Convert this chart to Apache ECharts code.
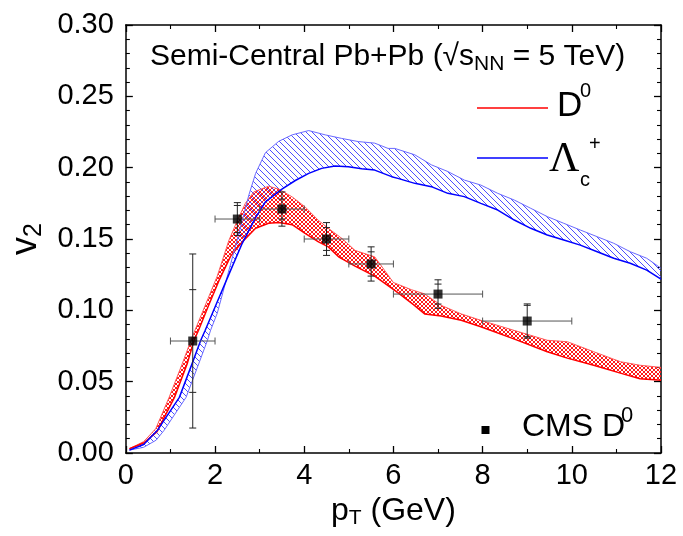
<!DOCTYPE html>
<html><head><meta charset="utf-8">
<script src="https://cdn.jsdelivr.net/npm/echarts@6/dist/echarts.min.js"></script>
<style>html,body{margin:0;padding:0;background:#fff}#c{width:683px;height:536px}</style>
</head><body><div id="c"></div>
<script>
// ---- D0 band (red) ----
const d0UpX = [0.08, 0.4, 0.67, 0.97, 1.27, 1.46, 1.55, 1.8, 2.05, 2.31, 2.5, 2.68, 2.87, 3.2, 3.43, 3.73, 4.02, 4.32, 4.54, 4.84, 5.14, 5.58, 6.0, 6.4, 6.7, 7.07, 7.52, 7.96, 8.7, 9.45, 9.9, 10.49, 11.09, 11.53, 12.0];
const d0UpY = [0.003, 0.008, 0.017, 0.039, 0.063, 0.079, 0.086, 0.105, 0.124, 0.149, 0.163, 0.175, 0.183, 0.187, 0.185, 0.1795, 0.1725, 0.163, 0.1575, 0.1505, 0.142, 0.1375, 0.1195, 0.1145, 0.1115, 0.1035, 0.0975, 0.093, 0.086, 0.079, 0.078, 0.071, 0.064, 0.0615, 0.060];
const d0LoX = [0.08, 0.4, 0.7, 1.09, 1.38, 1.53, 1.63, 1.85, 2.09, 2.35, 2.61, 2.91, 3.2, 3.43, 3.73, 4.02, 4.32, 4.54, 4.77, 5.14, 5.58, 6.03, 6.18, 6.45, 6.7, 7.07, 7.52, 7.96, 8.7, 9.45, 9.9, 10.49, 11.09, 11.53, 12.0];
const d0LoY = [0.003, 0.007, 0.015, 0.039, 0.063, 0.079, 0.086, 0.103, 0.121, 0.138, 0.148, 0.1575, 0.161, 0.1615, 0.16, 0.154, 0.148, 0.1445, 0.1375, 0.131, 0.124, 0.114, 0.1105, 0.104, 0.0975, 0.096, 0.093, 0.0885, 0.080, 0.071, 0.0665, 0.0615, 0.056, 0.052, 0.051];
// ---- Lambda_c band (blue) ----
const lcLineX = [0.08, 0.4, 0.71, 1.2, 1.49, 1.68, 1.78, 2.01, 2.39, 2.61, 2.76, 2.91, 3.13, 3.5, 3.8, 4.1, 4.39, 4.69, 4.99, 5.29, 5.58, 5.96, 6.1, 6.48, 6.85, 7.22, 7.59, 7.96, 8.34, 8.71, 9.08, 9.45, 9.82, 10.19, 10.57, 10.94, 11.31, 11.68, 12.0];
const lcLineY = [0.002, 0.006, 0.016, 0.039, 0.063, 0.079, 0.086, 0.103, 0.131, 0.147, 0.156, 0.165, 0.176, 0.185, 0.191, 0.196, 0.1995, 0.2012, 0.2007, 0.1993, 0.1983, 0.1937, 0.1925, 0.189, 0.1867, 0.182, 0.1797, 0.175, 0.1703, 0.1633, 0.1575, 0.1528, 0.1493, 0.1457, 0.1411, 0.1365, 0.133, 0.1282, 0.1218];
const lcEdgeX = [0.08, 0.4, 0.68, 0.86, 1.35, 1.64, 1.83, 1.9, 2.05, 2.25, 2.45, 2.61, 2.76, 2.91, 3.13, 3.43, 3.73, 4.1, 4.47, 4.84, 5.21, 5.58, 5.88, 6.03, 6.48, 6.85, 7.22, 7.59, 7.96, 8.34, 8.71, 9.08, 9.45, 9.82, 10.19, 10.57, 10.94, 11.31, 11.68, 12.0];
const lcEdgeY = [0.002, 0.004, 0.009, 0.016, 0.039, 0.063, 0.079, 0.086, 0.098, 0.121, 0.144, 0.163, 0.181, 0.196, 0.2105, 0.2185, 0.223, 0.226, 0.223, 0.2205, 0.2183, 0.2172, 0.2135, 0.2135, 0.209, 0.202, 0.1973, 0.1913, 0.1878, 0.182, 0.1773, 0.1715, 0.1657, 0.161, 0.1563, 0.1516, 0.147, 0.1411, 0.1365, 0.1295];
// ---- CMS D0 data ----
const cmsX = [1.5, 2.5, 3.5, 4.5, 5.5, 7.0, 9.0];
const cmsY = [0.0785, 0.164, 0.171, 0.150, 0.1325, 0.1114, 0.0925];
const cmsXErr = [0.5, 0.5, 0.5, 0.5, 0.5, 1.0, 1.0];
const cmsStat = [0.061, 0.0115, 0.012, 0.0115, 0.012, 0.010, 0.012];
const cmsSys = [0.036, 0.0095, 0.007, 0.008, 0.0085, 0.007, 0.011];
// ---- axes ----
const xMin = 0, xMax = 12, xStep = 2;
const yMin = 0, yMax = 0.30, yStep = 0.05;

const FONT = 'Liberation Sans, Arial, sans-serif';
function zip(xs, ys) { return xs.map((x, i) => [x, ys[i]]); }
function hatch(color, size, both, lw) {
  const c = document.createElement('canvas'); c.width = size; c.height = size;
  const g = c.getContext('2d'); g.strokeStyle = color; g.lineWidth = lw;
  g.beginPath();
  for (let k = -size; k <= size; k += size) {
    g.moveTo(k, 0); g.lineTo(k + size, size);
    if (both) { g.moveTo(k, size); g.lineTo(k + size, 0); }
  }
  g.stroke();
  return c;
}
const redPat = hatch('#ff1a1a', 4, true, 1.0);
const bluePat = hatch('#3a3aff', 6, false, 0.9);

function bandSeries(xa, ya, xb, yb, pat, z) {
  return {
    type: 'custom', coordinateSystem: 'cartesian2d', clip: true, silent: true, z: z,
    data: [[xa[0], ya[0]]],
    renderItem: function (params, api) {
      const pts = [];
      for (let i = 0; i < xa.length; i++) pts.push(api.coord([xa[i], ya[i]]));
      for (let i = xb.length - 1; i >= 0; i--) pts.push(api.coord([xb[i], yb[i]]));
      return { type: 'polygon', shape: { points: pts }, style: { fill: { image: pat, repeat: 'repeat' }, stroke: null } };
    }
  };
}
function lineSeries(xs, ys, color, w, z) {
  return { type: 'line', data: zip(xs, ys), showSymbol: false, symbol: 'none', silent: true, z: z,
    lineStyle: { color: color, width: w }, clip: true };
}

const errData = cmsX.map((x, i) => [x, cmsY[i], cmsXErr[i], cmsStat[i], cmsSys[i]]);

function axisCommon(pos, showLabel) {
  return {
    type: 'value', position: pos,
    axisLine: { show: true, onZero: false, lineStyle: { color: '#000', width: 1.5 } },
    axisTick: { show: true, inside: true, length: 7, lineStyle: { color: '#000', width: 1.3 } },
    minorTick: { show: true, length: 4, lineStyle: { color: '#000', width: 1.1 } },
    splitLine: { show: false },
    axisLabel: { show: showLabel, color: '#000', fontSize: 29, fontFamily: FONT }
  };
}
const xa0 = Object.assign(axisCommon('bottom', true), { min: xMin, max: xMax, interval: xStep,
  name: '{a|p}{s|T}{a| (GeV)}', nameLocation: 'middle', nameGap: 39,
  nameTextStyle: { color: '#000', fontFamily: FONT, rich: {
    a: { fontSize: 32, fontFamily: FONT, color: '#000', lineHeight: 38 },
    s: { fontSize: 21, fontFamily: FONT, color: '#000', padding: [15, 0, 0, 0] } } } });
xa0.minorTick.splitNumber = 2; xa0.axisLabel.margin = 8;
const xa1 = Object.assign(axisCommon('top', false), { min: xMin, max: xMax, interval: xStep });
xa1.minorTick.splitNumber = 2;
const ya0 = Object.assign(axisCommon('left', true), { min: yMin, max: yMax, interval: yStep,
  name: '{a|v}{s|2}', nameLocation: 'middle', nameGap: 68, nameRotate: 90,
  nameTextStyle: { color: '#000', fontFamily: FONT, rich: {
    a: { fontSize: 36, fontFamily: FONT, color: '#000', lineHeight: 40 },
    s: { fontSize: 25, fontFamily: FONT, color: '#000', padding: [16, 0, 0, 0] } } } });
ya0.minorTick.splitNumber = 5; ya0.axisLabel.margin = 12;
ya0.axisLabel.formatter = v => v.toFixed(2);
const ya1 = Object.assign(axisCommon('right', false), { min: yMin, max: yMax, interval: yStep });
ya1.minorTick.splitNumber = 5;

const chart = echarts.init(document.getElementById('c'), null, { renderer: 'canvas' });
chart.setOption({
  animation: false,
  backgroundColor: '#fff',
  grid: { left: 123, right: 22, top: 25, bottom: 83, containLabel: false },
  xAxis: [xa0, xa1],
  yAxis: [ya0, ya1],
  graphic: [
    { type: 'text', x: 150, y: 57, z: 50, style: {
      text: '{a|Semi-Central Pb+Pb (√s}{s|NN}{a| = 5 TeV)}', verticalAlign: 'middle',
      rich: { a: { fontSize: 30, fontFamily: FONT, fill: '#000', lineHeight: 36 },
              s: { fontSize: 21, fontFamily: FONT, fill: '#000', padding: [15, 0, 0, 0] } } } },
    { type: 'line', z: 50, shape: { x1: 477, y1: 108, x2: 548, y2: 108 }, style: { stroke: '#ff0000', lineWidth: 1.5 } },
    { type: 'text', x: 557, y: 106, z: 50, style: { text: 'D', fontSize: 35, fontFamily: FONT, fill: '#000', verticalAlign: 'middle' } },
    { type: 'text', x: 580, y: 91, z: 50, style: { text: '0', fontSize: 20, fontFamily: FONT, fill: '#000', verticalAlign: 'middle' } },
    { type: 'line', z: 50, shape: { x1: 477, y1: 158, x2: 548, y2: 158 }, style: { stroke: '#0000ff', lineWidth: 1.5 } },
    { type: 'text', x: 549, y: 160, z: 50, style: { text: 'Λ', fontSize: 42, fontFamily: 'Liberation Serif, serif', fill: '#000', verticalAlign: 'middle' } },
    { type: 'text', x: 580, y: 180, z: 50, style: { text: 'c', fontSize: 20, fontFamily: FONT, fill: '#000', verticalAlign: 'middle' } },
    { type: 'text', x: 589, y: 144, z: 50, style: { text: '+', fontSize: 20, fontFamily: FONT, fill: '#000', verticalAlign: 'middle' } },
    { type: 'rect', z: 50, shape: { x: 481.5, y: 426, width: 8, height: 8 }, style: { fill: '#000' } },
    { type: 'text', x: 522, y: 427, z: 50, style: { text: 'CMS D', fontSize: 32, fontFamily: FONT, fill: '#000', verticalAlign: 'middle' } },
    { type: 'text', x: 621, y: 416, z: 50, style: { text: '0', fontSize: 22, fontFamily: FONT, fill: '#000', verticalAlign: 'middle' } }
  ],
  series: [
    bandSeries(d0UpX, d0UpY, d0LoX, d0LoY, redPat, 2),
    bandSeries(lcLineX, lcLineY, lcEdgeX, lcEdgeY, bluePat, 3),
    lineSeries(d0UpX, d0UpY, '#ff5a5a', 1, 4),
    lineSeries(d0LoX, d0LoY, '#ff0000', 1.5, 4),
    lineSeries(lcEdgeX, lcEdgeY, '#6a6aff', 1, 4),
    lineSeries(lcLineX, lcLineY, '#0000ff', 1.5, 5),
    {
      type: 'custom', coordinateSystem: 'cartesian2d', data: errData, z: 6, silent: true,
      renderItem: function (params, api) {
        const x = api.value(0), y = api.value(1), xe = api.value(2), st = api.value(3), sy = api.value(4);
        const l = api.coord([x - xe, y]), r = api.coord([x + xe, y]);
        const t1 = api.coord([x, y + st]), b1 = api.coord([x, y - st]);
        const t2 = api.coord([x, y + sy]), b2 = api.coord([x, y - sy]);
        const cp = 3.5;
        const segs = [
          [l, r, '#555'],
          [t1, b1, '#222'],
          [[l[0], l[1] - cp], [l[0], l[1] + cp], '#555'],
          [[r[0], r[1] - cp], [r[0], r[1] + cp], '#555'],
          [[t1[0] - cp, t1[1]], [t1[0] + cp, t1[1]], '#222'],
          [[b1[0] - cp, b1[1]], [b1[0] + cp, b1[1]], '#222'],
          [[t2[0] - cp, t2[1]], [t2[0] + cp, t2[1]], '#222'],
          [[b2[0] - cp, b2[1]], [b2[0] + cp, b2[1]], '#222']
        ];
        return { type: 'group', children: segs.map(s => ({ type: 'line',
          shape: { x1: s[0][0], y1: s[0][1], x2: s[1][0], y2: s[1][1] },
          style: { stroke: s[2], lineWidth: 1 } })) };
      }
    },
    { type: 'scatter', data: zip(cmsX, cmsY), symbol: 'rect', symbolSize: 9, z: 7, silent: true,
      itemStyle: { color: '#000' } }
  ]
});
</script>
</body></html>
